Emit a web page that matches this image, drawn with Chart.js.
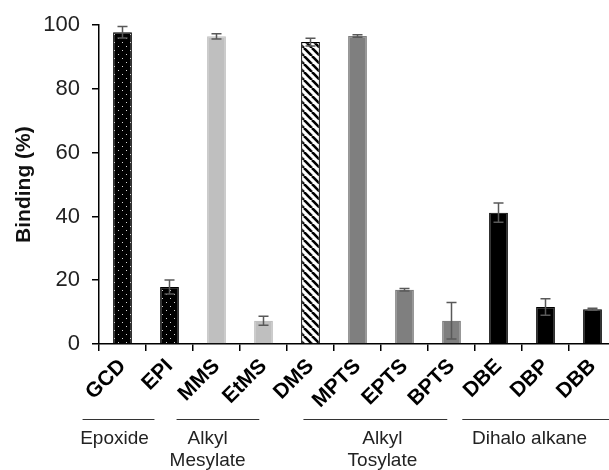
<!DOCTYPE html>
<html>
<head>
<meta charset="utf-8">
<script src="https://cdn.jsdelivr.net/npm/chart.js@4/dist/chart.umd.min.js"></script>
<style>
  html, body { margin: 0; padding: 0; background: #fff; overflow: hidden; }
  #wrap { width: 620px; height: 470px; }
</style>
</head>
<body>
<div id="wrap"><canvas id="chart" width="620" height="470"></canvas></div>
<script>
const categories = ['GCD', 'EPI', 'MMS', 'EtMS', 'DMS', 'MPTS', 'EPTS', 'BPTS', 'DBE', 'DBP', 'DBB'];
const binding = [97.8, 17.9, 96.5, 7.3, 94.7, 96.6, 17.0, 7.3, 41.2, 11.6, 10.9];
const errors = [1.8, 2.2, 0.8, 1.4, 1.2, 0.4, 0.4, 5.7, 3.0, 2.6, 0.3];
const yTicks = [0, 20, 40, 60, 80, 100];
const groupNames = [['Epoxide'], ['Alkyl', 'Mesylate'], ['Alkyl', 'Tosylate'], ['Dihalo alkane']];
const groupFrom = [-0.85, 1.15, 3.85, 7.23];
const groupTo = [0.68, 2.91, 6.91, 10.4];
const groupMid = [-0.17, 1.81, 5.53, 8.66];

function dotPattern() {
    const c = document.createElement('canvas');
    c.width = 8; c.height = 8;
    const g = c.getContext('2d');
    g.fillStyle = '#000';
    g.fillRect(0, 0, 8, 8);
    g.fillStyle = '#d8d8d8';
    g.fillRect(2, 2, 1, 1);
    g.fillRect(6, 6, 1, 1);
    return g.createPattern(c, 'repeat');
}

function hatchPattern() {
    const c = document.createElement('canvas');
    c.width = 8; c.height = 8;
    const g = c.getContext('2d');
    g.fillStyle = '#fff';
    g.fillRect(0, 0, 8, 8);
    g.strokeStyle = '#000';
    g.lineWidth = 2.6;
    [-8, 0, 8].forEach(o => {
        g.beginPath();
        g.moveTo(o, 0);
        g.lineTo(o + 8, 8);
        g.stroke();
    });
    return g.createPattern(c, 'repeat');
}

const dots = dotPattern();
const hatch = hatchPattern();
const fills = [dots, dots, '#bfbfbf', '#bfbfbf', hatch, '#7f7f7f', '#7f7f7f', '#7f7f7f', '#000', '#000', '#000'];
const borders = fills.map(f => typeof f === 'string' ? f : '#000');

const errorBars = {
    id: 'errorBars',
    afterDatasetsDraw(chart) {
        const ctx = chart.ctx;
        const y = chart.scales.y;
        const meta = chart.getDatasetMeta(0);
        ctx.save();
        ctx.strokeStyle = '#595959';
        ctx.lineWidth = 1.5;
        meta.data.forEach((bar, i) => {
            const top = y.getPixelForValue(binding[i] + errors[i]);
            const bot = y.getPixelForValue(binding[i] - errors[i]);
            ctx.beginPath();
            ctx.moveTo(bar.x, top);
            ctx.lineTo(bar.x, bot);
            ctx.moveTo(bar.x - 5, top);
            ctx.lineTo(bar.x + 5, top);
            ctx.moveTo(bar.x - 5, bot);
            ctx.lineTo(bar.x + 5, bot);
            ctx.stroke();
        });
        ctx.restore();
    }
};

const groupLabels = {
    id: 'groupLabels',
    afterDraw(chart) {
        const ctx = chart.ctx;
        const x = chart.scales.x;
        ctx.save();
        ctx.strokeStyle = '#333';
        ctx.lineWidth = 1;
        ctx.fillStyle = '#222';
        ctx.font = '19px Arial, "Liberation Sans", sans-serif';
        ctx.textAlign = 'center';
        ctx.textBaseline = 'middle';
        groupNames.forEach((lines, i) => {
            ctx.beginPath();
            ctx.moveTo(x.getPixelForValue(groupFrom[i]), 419.5);
            ctx.lineTo(x.getPixelForValue(groupTo[i]), 419.5);
            ctx.stroke();
            lines.forEach((t, k) => {
                ctx.fillText(t, x.getPixelForValue(groupMid[i]), 439 + k * 22);
            });
        });
        ctx.restore();
    }
};

new Chart(document.getElementById('chart').getContext('2d'), {
    type: 'bar',
    data: {
        labels: categories,
        datasets: [{
            data: binding,
            backgroundColor: fills,
            borderColor: borders,
            borderWidth: 1.2,
            categoryPercentage: 1,
            barPercentage: 0.4
        }]
    },
    options: {
        responsive: false,
        animation: false,
        layout: { padding: { top: 23, right: 4, left: 0, bottom: 0 } },
        plugins: { legend: { display: false }, tooltip: { enabled: false } },
        scales: {
            x: {
                afterFit: s => { s.height = 126; },
                border: { color: '#000', width: 1.5 },
                grid: { drawOnChartArea: false, tickLength: 7, color: '#000', lineWidth: 1.5 },
                ticks: {
                    autoSkip: false,
                    minRotation: 45,
                    maxRotation: 45,
                    padding: 3,
                    color: '#000',
                    font: { family: 'Arial, "Liberation Sans", sans-serif', size: 21, weight: 'bold' }
                }
            },
            y: {
                min: 0,
                max: 100,
                afterFit: s => { s.width = 99; },
                afterBuildTicks: s => { s.ticks = yTicks.map(v => ({ value: v })); },
                border: { color: '#000', width: 1.5 },
                grid: { drawOnChartArea: false, tickLength: 7, color: '#000', lineWidth: 1.5 },
                ticks: {
                    padding: 12,
                    color: '#222',
                    font: { family: 'Arial, "Liberation Sans", sans-serif', size: 22 }
                },
                title: {
                    display: true,
                    text: 'Binding (%)',
                    color: '#111',
                    padding: { top: 12, bottom: 0 },
                    font: { family: 'Arial, "Liberation Sans", sans-serif', size: 21, weight: 'bold' }
                }
            }
        }
    },
    plugins: [errorBars, groupLabels]
});
</script>
</body>
</html>
